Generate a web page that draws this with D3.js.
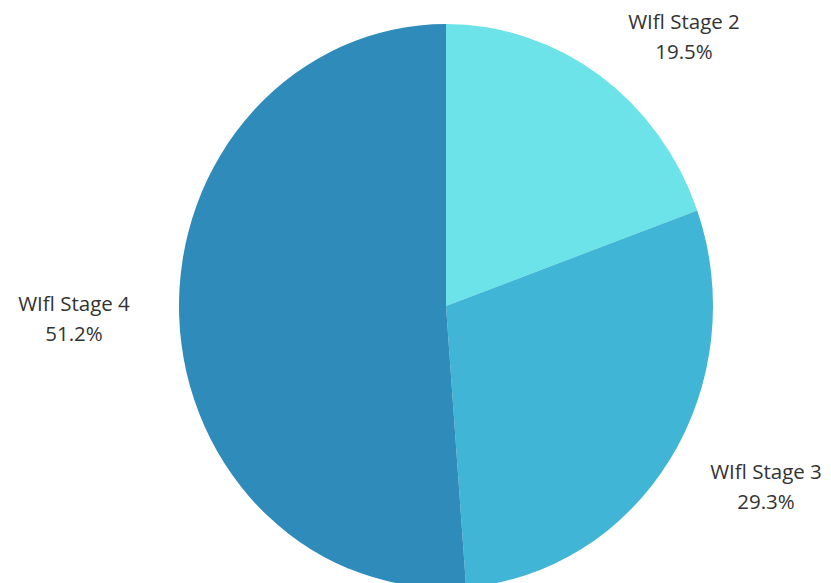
<!DOCTYPE html>
<html>
<head>
<meta charset="utf-8">
<script src="https://cdn.jsdelivr.net/npm/d3@7"></script>
<style>
html,body{margin:0;padding:0;background:#fff;overflow:hidden;}
svg{display:block;}
</style>
</head>
<body>
<svg id="chart" width="831" height="583"></svg>
<script>
const categories = ["WIfl Stage 2", "WIfl Stage 3", "WIfl Stage 4"];
const values = [19.5, 29.3, 51.2];
const colors = ["#6be3e8", "#41b5d5", "#2e8bba"];
const labelPos = [[684, 29], [766, 479], [74, 311]];

const svg = d3.select("#chart");
const cx = 446, cy = 306, rx = 267, ry = 282;

const pie = d3.pie().sort(null).value(d => d)(values);
const arc = d3.arc().innerRadius(0).outerRadius(rx);

const g = svg.append("g")
  .attr("transform", `translate(${cx},${cy}) scale(1,${ry / rx})`);
g.selectAll("path").data(pie).enter().append("path")
  .attr("d", arc)
  .attr("fill", (d, i) => colors[i]);

const lab = svg.append("g")
  .attr("font-family", "'Open Sans', sans-serif")
  .attr("font-size", 20.5)
  .attr("fill", "#333")
  .attr("text-anchor", "middle");
categories.forEach((c, i) => {
  const t = lab.append("text").attr("x", labelPos[i][0]).attr("y", labelPos[i][1]);
  t.append("tspan").attr("x", labelPos[i][0]).attr("dy", 0).text(c);
  t.append("tspan").attr("x", labelPos[i][0]).attr("dy", 30).text(d3.format(".1f")(values[i]) + "%");
});
</script>
</body>
</html>
